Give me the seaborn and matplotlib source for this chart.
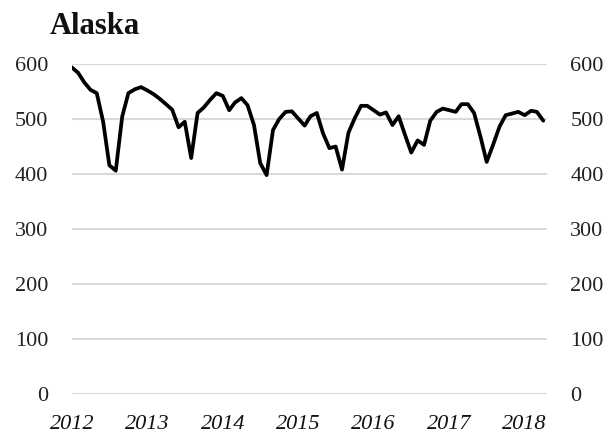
import matplotlib
matplotlib.use("Agg")
import matplotlib.pyplot as plt
import matplotlib.dates as mdates
import seaborn as sns
import pandas as pd
import numpy as np

title = "Alaska"
start_month = "2012-01-01"
values = [594, 584, 567, 553, 547, 495, 416, 406, 504, 547, 554, 558,
          552, 545, 537, 527, 517, 485, 495, 429, 511, 521, 535, 547,
          542, 516, 530, 538, 525, 489, 420, 398, 480, 500, 513, 514,
          501, 488, 505, 511, 474, 447, 450, 408, 475, 501, 524, 524,
          516, 508, 512, 489, 505, 471, 439, 461, 453, 497, 513, 519,
          516, 513, 527, 527, 511, 468, 422, 453, 486, 507, 510, 513,
          507, 515, 513, 497]
year_ticks = [2012, 2013, 2014, 2015, 2016, 2017, 2018]
y_ticks = [0, 100, 200, 300, 400, 500, 600]

dates = pd.date_range(start_month, periods=len(values), freq="MS")
df = pd.DataFrame({"date": dates, "value": values})

sns.set_theme(style="white")
plt.rcParams["font.family"] = ["Liberation Serif", "DejaVu Serif"]

fig = plt.figure(figsize=(6.08, 4.37), dpi=100)
ax = fig.add_axes([0.118, 0.0984, 0.781, 0.7551])

sns.lineplot(data=df, x="date", y="value", ax=ax, color="black", linewidth=2.7)

ax.set_ylim(0, 600)
ax.set_xlim(dates[0], dates[-1] + pd.Timedelta(days=16))
ax.set_yticks(y_ticks)
ax.set_xticks([pd.Timestamp(f"{y}-01-01") for y in year_ticks])
ax.set_xticklabels([str(y) for y in year_ticks], fontstyle="italic", fontsize=16)
ax.yaxis.grid(True, color="#d9d9d9", linewidth=1.5)
ax.xaxis.grid(False)
ax.set_axisbelow(True)
for s in ax.spines.values():
    s.set_visible(False)
ax.tick_params(axis="y", which="both", length=0, pad=17, labelsize=16,
               labelleft=True, labelright=True, colors="#222222")
ax.tick_params(axis="x", length=0, pad=15, labelsize=16, colors="#111111")
ax.set_xlabel("")
ax.set_ylabel("")

fig.text(50 / 608, 1 - 34 / 437, title, fontsize=22, fontweight="bold",
         ha="left", va="baseline", color="#111111")

fig.savefig("out.png", dpi=100)
